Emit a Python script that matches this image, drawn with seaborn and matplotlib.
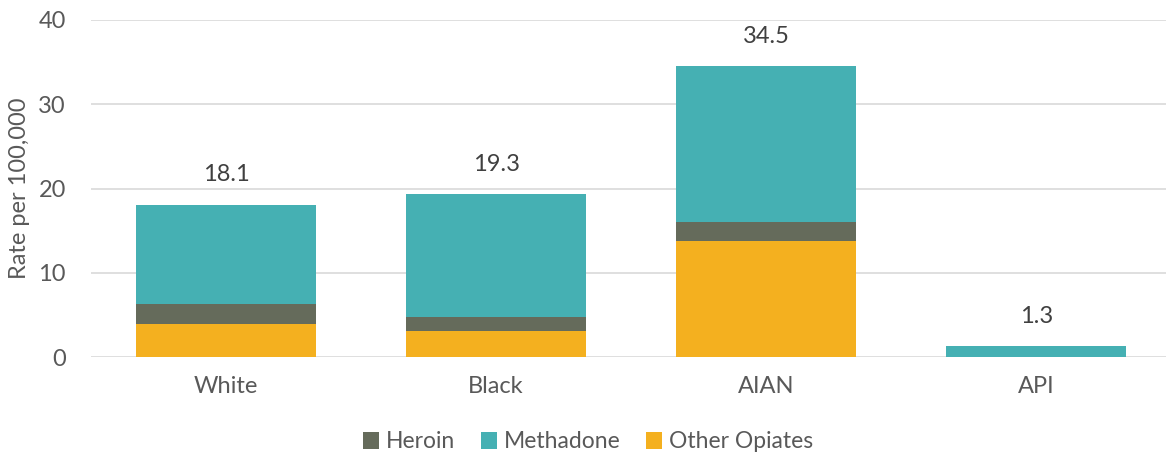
import matplotlib
matplotlib.use("Agg")
import matplotlib.pyplot as plt
from matplotlib.patches import Patch
import numpy as np
import pandas as pd
import seaborn as sns

# Opiate-related death rates by race (per 100,000)
groups = ["White", "Black", "AIAN", "API"]
other_opiates = [3.9, 3.1, 13.8, 0.0]
heroin = [2.4, 1.7, 2.2, 0.0]
methadone = [11.8, 14.5, 18.5, 1.3]
totals = [18.1, 19.3, 34.5, 1.3]
y_ticks = [0, 10, 20, 30, 40]

colors = {"Heroin": "#656B5B", "Methadone": "#45B0B3", "Other Opiates": "#F4B01F"}
text_color = "#595959"

sns.set_theme(style="white")
plt.rcParams["font.family"] = ["Lato", "DejaVu Sans"]

df = pd.DataFrame({"group": groups, "Other Opiates": other_opiates,
                   "Heroin": heroin, "Methadone": methadone})

fig = plt.figure(figsize=(11.66, 4.57), dpi=100)
ax = fig.add_axes([91 / 1166, 1 - 357 / 457, 1 - 91 / 1166, (357 - 20) / 457])

bottom = np.zeros(len(groups))
for series in ["Other Opiates", "Heroin", "Methadone"]:
    sns.barplot(data=df, x="group", y=series, color=colors[series], width=0.667,
                bottom=bottom, ax=ax, saturation=1, linewidth=0, zorder=3)
    bottom = bottom + df[series].to_numpy()

for i, t in enumerate(totals):
    ax.annotate(f"{t:.1f}", (i, t), xytext=(0, 14), textcoords="offset points",
                ha="center", va="bottom", fontsize=17, color="#404040")

ax.set_ylim(0, 40)
ax.set_xlim(-0.5, 3.48)
ax.set_yticks(y_ticks)
ax.yaxis.grid(True, color="#D9D9D9", linewidth=1.2, zorder=0)
ax.set_axisbelow(True)
for s in ax.spines.values():
    s.set_visible(False)
ax.tick_params(axis="both", length=0, labelsize=17, labelcolor=text_color)
ax.tick_params(axis="y", pad=18)
ax.tick_params(axis="x", pad=14)
ax.set_xlabel("")
ax.set_ylabel("Rate per 100,000", fontsize=17, color=text_color, labelpad=6)

handles = [Patch(facecolor=colors[k], edgecolor="none") for k in ["Heroin", "Methadone", "Other Opiates"]]
fig.legend(handles, ["Heroin", "Methadone", "Other Opiates"], loc="center",
           bbox_to_anchor=(588 / 1166, 1 - 442 / 457), ncol=3, frameon=False,
           fontsize=16.5, labelcolor=text_color, handlelength=0.7, handleheight=0.7,
           handletextpad=0.3, columnspacing=1.1)

fig.savefig("out.png", dpi=100)
